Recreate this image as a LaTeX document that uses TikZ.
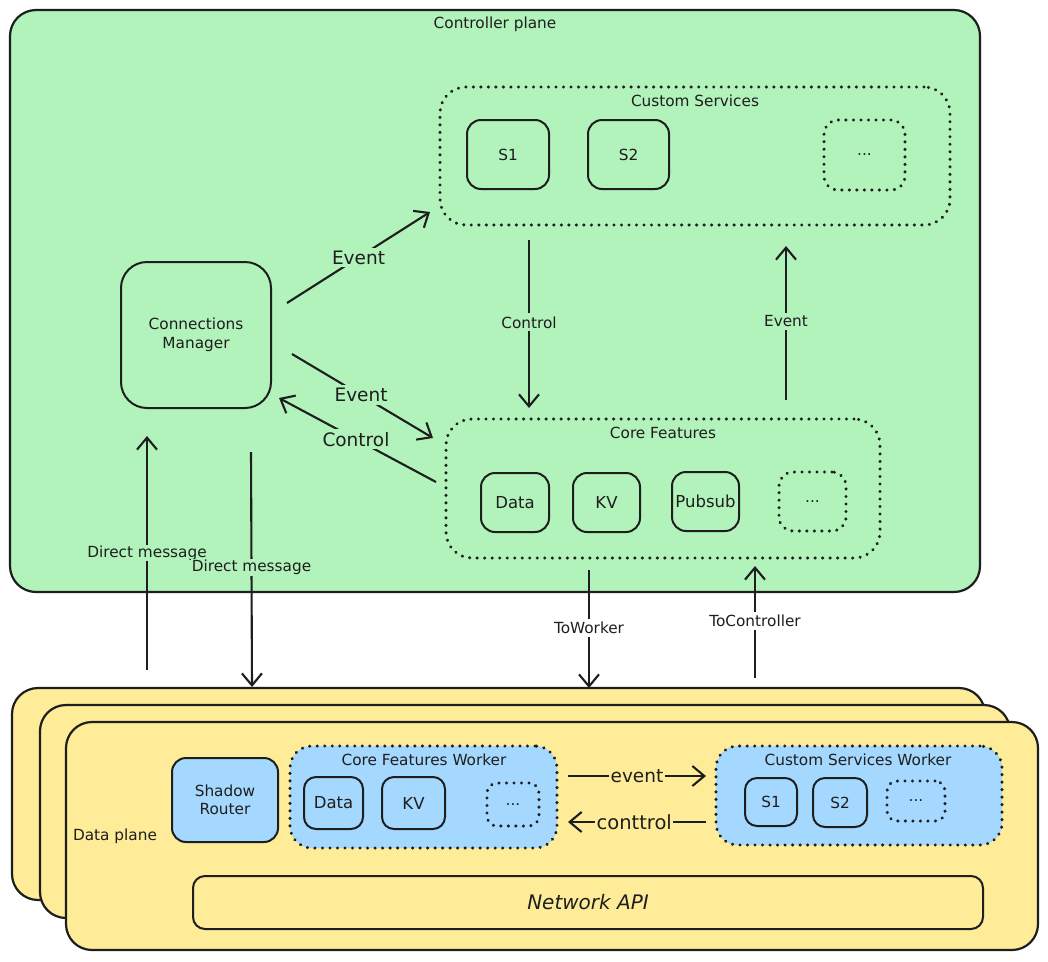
\documentclass[tikz,border=0pt]{standalone}
\usepackage{fontspec}
\setmainfont{DejaVu Sans}
\usetikzlibrary{arrows.meta}
\definecolor{cgreen}{HTML}{B2F2BB}
\definecolor{cyellow}{HTML}{FFEC99}
\definecolor{cblue}{HTML}{A5D8FF}
\definecolor{ink}{HTML}{1E1E1E}
\newcommand{\fnorm}{\fontsize{15.3}{18.5}\selectfont}
\newcommand{\fmid}{\fontsize{16.5}{20}\selectfont}
\newcommand{\fbig}{\fontsize{18.5}{22}\selectfont}
\newcommand{\fhuge}{\fontsize{20}{24}\selectfont}
\tikzset{
  box/.style={draw=ink, line width=2pt, rounded corners=14pt, align=center, inner sep=0pt, font=\fnorm, text=ink},
  dbox/.style={box, dash pattern=on 0.01pt off 7.5pt, line cap=round, line width=3.4pt},
  plane/.style={box, line width=2.2pt, rounded corners=26pt},
  arr/.style={draw=ink, line width=2.1pt, -{Straight Barb[length=12pt,width=20pt]}},
  lblg/.style={fill=cgreen, inner sep=3pt, font=\fnorm, text=ink},
  lblw/.style={fill=white, inner sep=3pt, font=\fnorm, text=ink},
  lbly/.style={fill=cyellow, inner sep=3pt, font=\fbig, text=ink},
  txt/.style={inner sep=0pt, font=\fnorm, text=ink, align=center}
}
\begin{document}
\begin{tikzpicture}[x=1pt,y=-1pt]
\useasboundingbox[fill=white] (0,0) rectangle (1048,961);

% ---------- Controller plane ----------
\node[plane, fill=cgreen, minimum width=970pt, minimum height=582pt] (cp) at (495,301) {};
\node[txt] (cplabel) at (495,24) {Controller plane};

% Custom services
\node[dbox, minimum width=510pt, minimum height=138pt, rounded corners=26pt] (cs) at (695,156) {};
\node[txt] (cslabel) at (695,101) {Custom Services};
\node[box, minimum width=82pt, minimum height=69pt] (s1) at (508,154.5) {S1};
\node[box, minimum width=81pt, minimum height=69pt] (s2) at (628.5,154.5) {S2};
\node[dbox, minimum width=81pt, minimum height=70pt] (csdots) at (864.5,155) {...};

% Connections manager
\node[box, minimum width=150pt, minimum height=146pt, rounded corners=26pt] (cm) at (196,335) {Connections\\Manager};

% Core features
\node[dbox, minimum width=434pt, minimum height=139pt, rounded corners=26pt] (cf) at (663,488.5) {};
\node[txt] (cflabel) at (663,433) {Core Features};
\node[box, font=\fmid, minimum width=68pt, minimum height=59pt] (data) at (515,502.5) {Data};
\node[box, font=\fmid, minimum width=67pt, minimum height=59pt] (kv) at (606.5,502.5) {KV};
\node[box, font=\fmid, minimum width=67pt, minimum height=59pt] (pubsub) at (705.5,501.5) {Pubsub};
\node[dbox, minimum width=67pt, minimum height=59pt] (cfdots) at (812.5,501.5) {...};

% arrows in controller plane
\coordinate (e1s) at (287,303); \coordinate (e1e) at (430,212);
\coordinate (e2s) at (292,354); \coordinate (e2e) at (433,438);
\coordinate (c1s) at (436,482); \coordinate (c1e) at (279,398);
\coordinate (c2s) at (529,240); \coordinate (c2e) at (529,408);
\coordinate (e3s) at (786,400); \coordinate (e3e) at (786,246);
\draw[arr] (e1s) -- node[lblg, font=\fbig, pos=0.5] {Event} (e1e);
\draw[arr] (e2s) -- node[lblg, font=\fbig, pos=0.49] {Event} (e2e);
\draw[arr] (c1s) -- node[lblg, font=\fbig, pos=0.51] {Control} (c1e);
\draw[arr] (c2s) -- node[lblg, pos=0.49] {Control} (c2e);
\draw[arr] (e3s) -- node[lblg, pos=0.51] {Event} (e3e);

% ---------- Data plane ----------
\node[plane, fill=cyellow, minimum width=973pt, minimum height=212pt] (dp1) at (498.5,794) {};
\node[plane, fill=cyellow, minimum width=970pt, minimum height=213pt] (dp2) at (525,811.5) {};
\node[plane, fill=cyellow, minimum width=972pt, minimum height=228pt] (dp3) at (552,836) {};
\node[txt] (dplabel) at (115,836) {Data plane};

\node[box, fill=cblue, minimum width=106pt, minimum height=84pt] (sr) at (225,800) {Shadow\\Router};

\node[dbox, fill=cblue, minimum width=267pt, minimum height=102pt, rounded corners=22pt] (cfw) at (423.5,797) {};
\node[txt] (cfwlabel) at (424,760) {Core Features Worker};
\node[box, font=\fmid, minimum width=59pt, minimum height=52pt, rounded corners=12pt] (wdata) at (333.5,803) {Data};
\node[box, font=\fmid, minimum width=63pt, minimum height=52pt, rounded corners=12pt] (wkv) at (413.5,803) {KV};
\node[dbox, minimum width=52pt, minimum height=43pt, rounded corners=10pt] (wdots) at (513,804.5) {...};

\node[dbox, fill=cblue, minimum width=286pt, minimum height=99pt, rounded corners=22pt] (csw) at (859,795.5) {};
\node[txt] (cswlabel) at (858,760) {Custom Services Worker};
\node[box, minimum width=52pt, minimum height=48pt, rounded corners=12pt] (ws1) at (771,802) {S1};
\node[box, minimum width=54pt, minimum height=49pt, rounded corners=12pt] (ws2) at (840,802.5) {S2};
\node[dbox, minimum width=58pt, minimum height=40pt, rounded corners=10pt] (wsdots) at (916,801) {...};

\node[box, fill=cyellow, font=\fhuge, minimum width=790pt, minimum height=53pt, rounded corners=12pt] (napi) at (588,902.5) {\itshape Network API};

\coordinate (evs) at (568,776); \coordinate (eve) at (706,776);
\coordinate (cts) at (706,822); \coordinate (cte) at (568,822);
\draw[arr] (evs) -- node[lbly, pos=0.5, inner sep=1.5pt] {event} (eve);
\draw[arr] (cts) -- node[lbly, pos=0.52, inner sep=1.5pt, font=\fontsize{19.5}{23}\selectfont] {conttrol} (cte);

% ---------- Between planes ----------
\coordinate (d1s) at (147,670); \coordinate (d1e) at (147,436);
\coordinate (d2s) at (251,452); \coordinate (d2e) at (252,687);
\coordinate (tws) at (589,570); \coordinate (twe) at (589,688);
\coordinate (tcs) at (755,678); \coordinate (tce) at (755,566);
\draw[arr] (d1s) -- node[lblg, pos=0.5, inner sep=1pt] {Direct message} (d1e);
\draw[arr] (d2s) -- node[lblg, pos=0.49, inner sep=1pt] {Direct message} (d2e);
\draw[arr] (tws) -- node[lblw, pos=0.49] {ToWorker} (twe);
\draw[arr] (tcs) -- node[lblw, pos=0.51] {ToController} (tce);
\end{tikzpicture}
\end{document}
